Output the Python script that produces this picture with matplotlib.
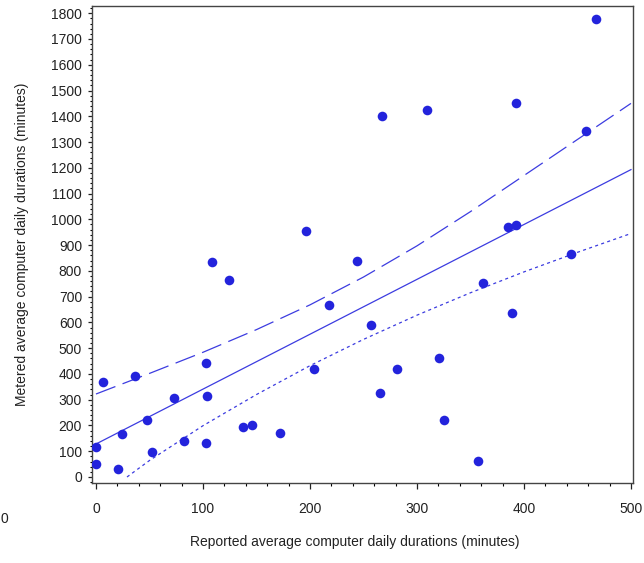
import matplotlib
matplotlib.use("Agg")
import matplotlib.pyplot as plt
from matplotlib.ticker import MultipleLocator

# observed points (reported vs metered minutes)
reported = [0, 0, 6.9, 20.2, 24.6, 36.4, 47.4, 52, 73.2, 82,
            102.5, 102.8, 103.4, 108, 124.6, 137.7, 145.5, 172, 196, 204,
            217.5, 243.6, 257, 265, 267, 281.6, 309.3, 320.6, 325, 357,
            362, 385.3, 388.8, 392.5, 392.5, 443.6, 457.6, 467.3]
metered = [50, 118, 367, 31, 167, 393, 221, 96, 305, 141,
           131, 441, 315, 833, 764, 195, 202, 171, 954, 421,
           667, 837, 591, 326, 1400, 419, 1425, 461, 221, 62,
           751, 971, 635, 978, 1451, 865, 1342, 1777]

# fitted line and limits
fit_x = [0, 500]
fit_y = [128, 1193]
upper_x = [0, 50, 100, 150, 200, 250, 300, 350, 400, 450, 500]
upper_y = [322, 402, 484, 572, 668, 776, 897, 1030, 1170, 1310, 1450]
lower_x = [29, 50, 100, 150, 200, 250, 300, 350, 400, 450, 500]
lower_y = [0, 64, 199, 320, 432, 534, 628, 715, 796, 872, 945]

plt.rcParams['font.family'] = ['Liberation Sans', 'DejaVu Sans']
plt.rcParams['lines.scale_dashes'] = False

fig = plt.figure(figsize=(6.44, 5.63), dpi=100)
ax = fig.add_axes([92/644, 1 - 483/563, (633 - 92)/644, (483 - 6)/563])

line_col = '#3c3ce0'
ax.plot(fit_x, fit_y, color=line_col, lw=0.9)
ax.plot(upper_x, upper_y, color=line_col, lw=0.9, dashes=(15, 5.5))
ax.plot(lower_x, lower_y, color=line_col, lw=0.9, dashes=(2.2, 2.4))
ax.scatter(reported, metered, s=48, color='#2323dc', zorder=3, linewidths=0)

ax.set_xlim(-3.7, 501.9)
ax.set_ylim(-23.3, 1828)
ax.xaxis.set_major_locator(MultipleLocator(100))
ax.xaxis.set_minor_locator(MultipleLocator(20))
ax.yaxis.set_major_locator(MultipleLocator(100))
ax.yaxis.set_minor_locator(MultipleLocator(20))

for s in ax.spines.values():
    s.set_color('#444444')
    s.set_linewidth(1.0)

ax.tick_params(axis='both', which='major', labelsize=10, colors='#222222', width=0.9)
ax.tick_params(axis='y', which='major', length=3.2, pad=4)
ax.tick_params(axis='y', which='minor', length=1.7, width=0.8)
ax.tick_params(axis='x', which='major', length=4.5, pad=9)
ax.tick_params(axis='x', which='minor', length=2, width=0.8)

ax.set_xlabel("Reported average computer daily durations (minutes)", fontsize=10, color='#222222')
ax.set_ylabel("Metered average computer daily durations (minutes)", fontsize=10, color='#222222')
ax.xaxis.set_label_coords(0.485, -0.11)
ax.yaxis.set_label_coords(-0.117, 0.5)

# stray label at the left edge of the original image
fig.text(0.5/644, 1 - 519/563, "0", fontsize=10, color='#222222', ha='left', va='center')

fig.savefig("out.png", dpi=100)
